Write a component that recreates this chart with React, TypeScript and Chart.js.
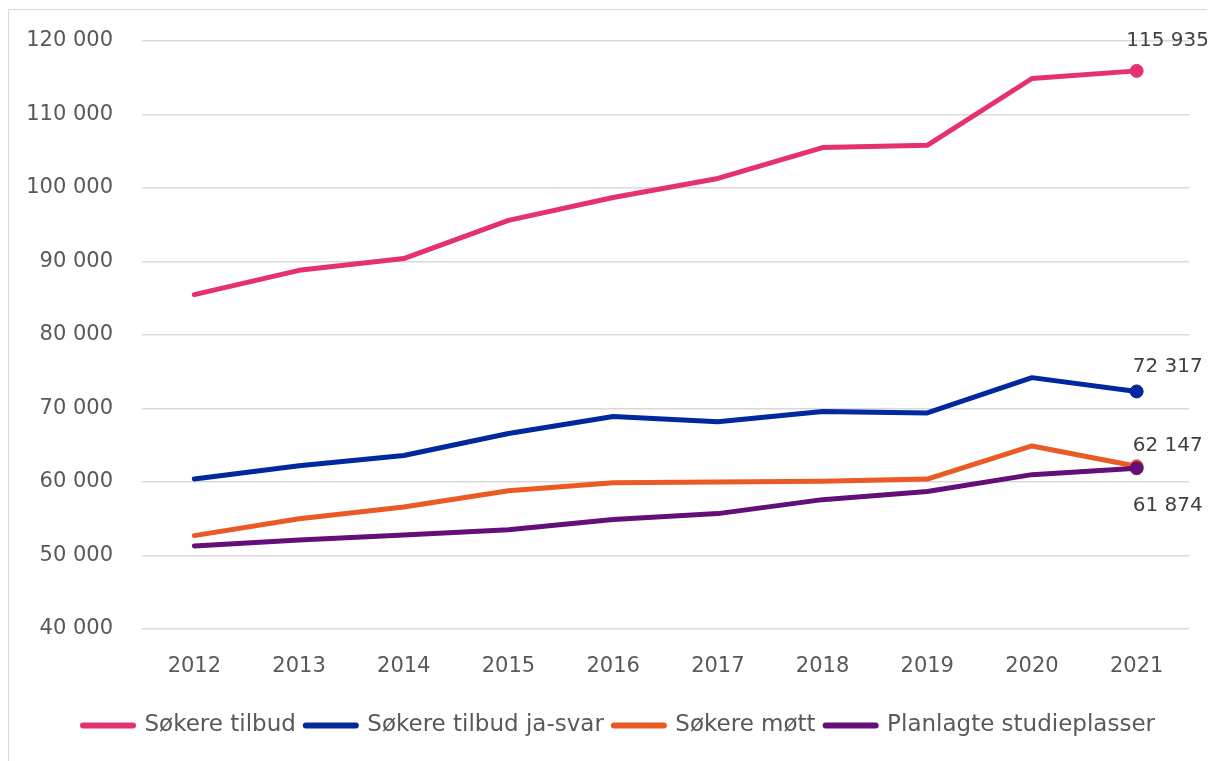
import React, { useEffect, useRef } from "react";
import { Chart, registerables } from "chart.js";

Chart.register(...registerables);

const years = ["2012", "2013", "2014", "2015", "2016", "2017", "2018", "2019", "2020", "2021"];
const sokereTilbud = [85500, 88800, 90400, 95600, 98700, 101300, 105500, 105800, 114900, 115935];
const sokereTilbudJaSvar = [60400, 62200, 63600, 66600, 68900, 68200, 69600, 69400, 74200, 72317];
const sokereMott = [52700, 55000, 56600, 58800, 59900, 60000, 60100, 60400, 64900, 62147];
const planlagteStudieplasser = [51300, 52100, 52800, 53500, 54900, 55700, 57600, 58700, 61000, 61874];
const seriesNames = ["Søkere tilbud", "Søkere tilbud ja-svar", "Søkere møtt", "Planlagte studieplasser"];
const seriesColors = ["#E6316F", "#00289F", "#EB5A25", "#620F78"];
const yMin = 40000;
const yMax = 120000;
const yStep = 10000;

const FONT = "'DejaVu Sans', sans-serif";
const TEXT_COLOR = "#595959";

const fmt = (v: number) => String(Math.round(v)).replace(/\B(?=(\d{3})+(?!\d))/g, " ");

// label offset for last-point value labels (dx, dy) per dataset
const lastLabelOffsets = [
  [31, -30],
  [31, -25],
  [31, -20],
  [31, 38],
];

const lastValueLabels = {
  id: "lastValueLabels",
  afterDatasetsDraw(chart: any) {
    const ctx = chart.ctx;
    ctx.save();
    ctx.font = `20px ${FONT}`;
    ctx.fillStyle = "#404040";
    ctx.textAlign = "center";
    ctx.textBaseline = "middle";
    chart.data.datasets.forEach((ds: any, i: number) => {
      const meta = chart.getDatasetMeta(i);
      const last = meta.data[meta.data.length - 1];
      if (!last) return;
      const v = ds.data[ds.data.length - 1];
      const [dx, dy] = lastLabelOffsets[i];
      ctx.fillText(fmt(v), last.x + dx, last.y + dy);
    });
    ctx.restore();
  },
};

// nudge legend so it is centred like the original
const legendShift = {
  id: "legendShift",
  afterLayout(chart: any) {
    const lg = chart.legend;
    if (!lg) return;
    lg.left += 20;
    lg.right += 20;
  },
};

export default function App() {
  const ref = useRef<HTMLCanvasElement | null>(null);

  useEffect(() => {
    document.body.style.overflow = "hidden";
    const series = [sokereTilbud, sokereTilbudJaSvar, sokereMott, planlagteStudieplasser];
    const drawOrder = [1, 2, 3, 0];
    const chart = new Chart(ref.current as HTMLCanvasElement, {
      type: "line",
      data: {
        labels: years,
        datasets: series.map((d, i) => ({
          label: seriesNames[i],
          data: d,
          order: drawOrder[i],
          borderColor: seriesColors[i],
          backgroundColor: seriesColors[i],
          borderWidth: 5,
          borderCapStyle: "round" as const,
          borderJoinStyle: "round" as const,
          pointRadius: d.map((_, j) => (j === d.length - 1 ? 6.5 : 0)),
          pointHoverRadius: d.map((_, j) => (j === d.length - 1 ? 6.5 : 0)),
          pointBorderWidth: 1,
          pointBackgroundColor: seriesColors[i],
          pointBorderColor: seriesColors[i],
          tension: 0,
          fill: false,
        })),
      },
      options: {
        animation: false,
        responsive: true,
        maintainAspectRatio: false,
        layout: { padding: { left: 0, right: 26, top: 31, bottom: 14 } },
        plugins: {
          tooltip: { enabled: false },
          legend: {
            position: "bottom",
            labels: {
              usePointStyle: true,
              pointStyle: "line",
              pointStyleWidth: 50,
              boxHeight: 20,
              padding: 10,
              color: TEXT_COLOR,
              font: { family: FONT, size: 23 },
              sort: (a: any, b: any) => a.datasetIndex - b.datasetIndex,
              generateLabels: (c: any) =>
                c.data.datasets.map((ds: any, i: number) => ({
                  text: ds.label,
                  datasetIndex: i,
                  fillStyle: seriesColors[i],
                  strokeStyle: seriesColors[i],
                  fontColor: TEXT_COLOR,
                  lineWidth: 6,
                  lineCap: "round",
                  pointStyle: "line",
                  hidden: !c.isDatasetVisible(i),
                })),
            },
          },
        },
        scales: {
          x: {
            offset: true,
            grid: { display: false, drawTicks: false },
            border: { display: false },
            ticks: {
              color: TEXT_COLOR,
              font: { family: FONT, size: 21 },
              padding: 25,
              maxRotation: 0,
            },
            afterFit: (s: any) => {
              s.height = 75;
            },
          },
          y: {
            min: yMin,
            max: yMax,
            grid: { color: "#d9d9d9", lineWidth: 1.5, drawTicks: false },
            border: { display: false },
            ticks: {
              stepSize: yStep,
              color: TEXT_COLOR,
              font: { family: FONT, size: 21 },
              padding: 29,
              callback: (v: any) => fmt(Number(v)),
            },
            afterFit: (s: any) => {
              s.width = 133;
              s.paddingTop = 0;
              s.paddingBottom = 0;
            },
          },
        },
      },
      plugins: [lastValueLabels, legendShift],
    });
    return () => chart.destroy();
  }, []);

  return (
    <div
      style={{
        marginTop: 1,
        borderLeft: "1px solid #d9d9d9",
        borderTop: "1px solid #d9d9d9",
        width: 1206,
        height: 751,
      }}
    >
      <div style={{ position: "relative", width: 1206, height: 751 }}>
        <canvas ref={ref} />
      </div>
    </div>
  );
}
